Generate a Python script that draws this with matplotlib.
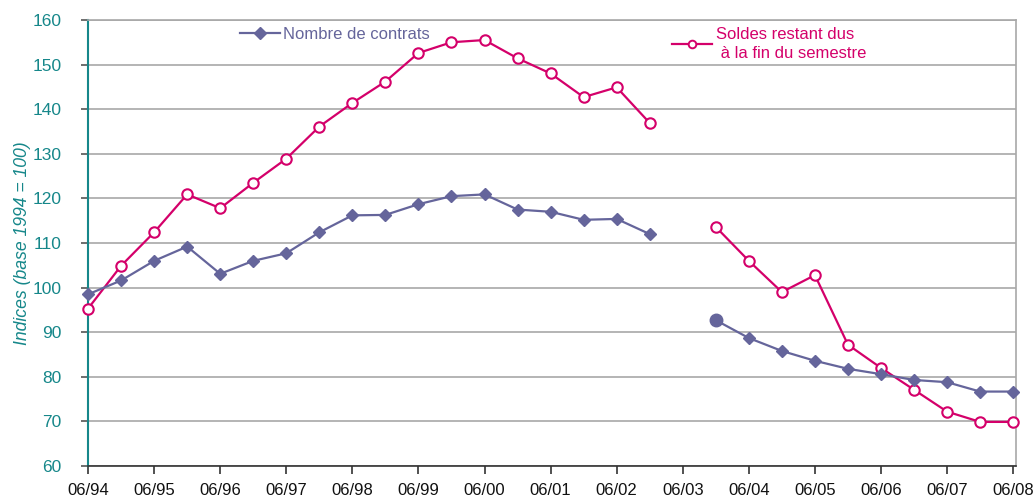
import numpy as np
import matplotlib
matplotlib.use("Agg")
import matplotlib.pyplot as plt
from matplotlib.lines import Line2D

# Semi-annual periods 06/94 .. 06/08 (06/03 missing)
periods = ["06/94", "12/94", "06/95", "12/95", "06/96", "12/96", "06/97", "12/97",
           "06/98", "12/98", "06/99", "12/99", "06/00", "12/00", "06/01", "12/01",
           "06/02", "12/02", "06/03", "12/03", "06/04", "12/04", "06/05", "12/05",
           "06/06", "12/06", "06/07", "12/07", "06/08"]

nombre_contrats = [98.5, 101.6, 106.0, 109.2, 103.1, 106.0, 107.7, 112.4,
                   116.2, 116.3, 118.7, 120.5, 120.9, 117.5, 117.0, 115.2,
                   115.4, 112.0, np.nan, 92.7, 88.7, 85.8, 83.6, 81.8,
                   80.6, 79.3, 78.8, 76.7, 76.7]

soldes_restant = [95.3, 104.9, 112.4, 120.9, 117.8, 123.5, 128.9, 136.1,
                  141.4, 146.2, 152.6, 155.0, 155.5, 151.4, 148.0, 142.7,
                  144.9, 136.9, np.nan, 113.6, 106.0, 99.0, 102.8, 87.2,
                  82.0, 77.1, 72.2, 69.9, 69.9]

year_labels = ["06/94", "06/95", "06/96", "06/97", "06/98", "06/99", "06/00",
               "06/01", "06/02", "06/03", "06/04", "06/05", "06/06", "06/07", "06/08"]

purple = "#65659b"
pink = "#d4006a"
teal = "#16878a"
grid_c = "#a8a8a8"

plt.rcParams['font.family'] = ['Liberation Sans', 'DejaVu Sans']

fig = plt.figure(figsize=(10.36, 4.99), dpi=100)
ax = fig.add_axes([0.085, 0.066, 0.8955, 0.894])

x = np.arange(len(periods))
nc = np.array(nombre_contrats, dtype=float)
sr = np.array(soldes_restant, dtype=float)

ax.plot(x, sr, color=pink, lw=1.6, marker="o", markersize=7.5,
        markerfacecolor="white", markeredgecolor=pink, markeredgewidth=1.5,
        zorder=3, clip_on=False)
ax.plot(x, nc, color=purple, lw=1.6, marker="D", markersize=6.5,
        markerfacecolor=purple, markeredgecolor=purple, zorder=4, clip_on=False)
# first point after the gap drawn as a filled circle
i_after = periods.index("12/03")
ax.plot([x[i_after]], [nc[i_after]], marker="o", markersize=9, color=purple,
        linestyle="none", zorder=5)

ax.set_ylim(60, 160)
ax.set_xlim(0, 28.08)
ax.set_yticks(np.arange(60, 161, 10))
ax.set_xticks([periods.index(l) for l in year_labels])
ax.set_xticklabels(year_labels)

ax.yaxis.grid(True, color=grid_c, lw=1.2)
ax.set_axisbelow(True)

for s in ["top", "right"]:
    ax.spines[s].set_color(grid_c)
    ax.spines[s].set_linewidth(1.2)
ax.spines["left"].set_color(teal)
ax.spines["left"].set_linewidth(1.5)
ax.spines["bottom"].set_color("#333333")
ax.spines["bottom"].set_linewidth(1.2)

ax.tick_params(axis="y", labelsize=12.5, length=5, width=1.2,
               labelcolor=teal, color="#555555", pad=14)
ax.tick_params(axis="x", labelsize=12, length=6, width=1.2, color="#333333",
               labelcolor="#111111", pad=6)

ax.set_ylabel("Indices (base 1994 = 100)", color=teal, fontsize=12.7,
              style="italic", labelpad=1)

h1 = Line2D([], [], color=purple, lw=1.6, marker="D", markersize=6,
            markerfacecolor=purple, markeredgecolor=purple)
h2 = Line2D([], [], color=pink, lw=1.6, marker="o", markersize=5.5,
            markerfacecolor="white", markeredgecolor=pink, markeredgewidth=1.4)

leg1 = ax.legend([h1], ["Nombre de contrats"], loc="upper left",
                 bbox_to_anchor=(0.1565, 1.0), frameon=False, fontsize=12,
                 handlelength=2.4, handletextpad=0.2, borderaxespad=0)
for t in leg1.get_texts():
    t.set_color(purple)
ax.add_artist(leg1)

leg2 = ax.legend([h2], ["Soldes restant dus\n à la fin du semestre"], loc="upper left",
                 bbox_to_anchor=(0.6225, 1.0), frameon=False, fontsize=12,
                 handlelength=2.4, handletextpad=0.2, borderaxespad=0)
for t in leg2.get_texts():
    t.set_color(pink)
    t.set_linespacing(1.35)

fig.savefig("out.png", dpi=100, facecolor="white")
